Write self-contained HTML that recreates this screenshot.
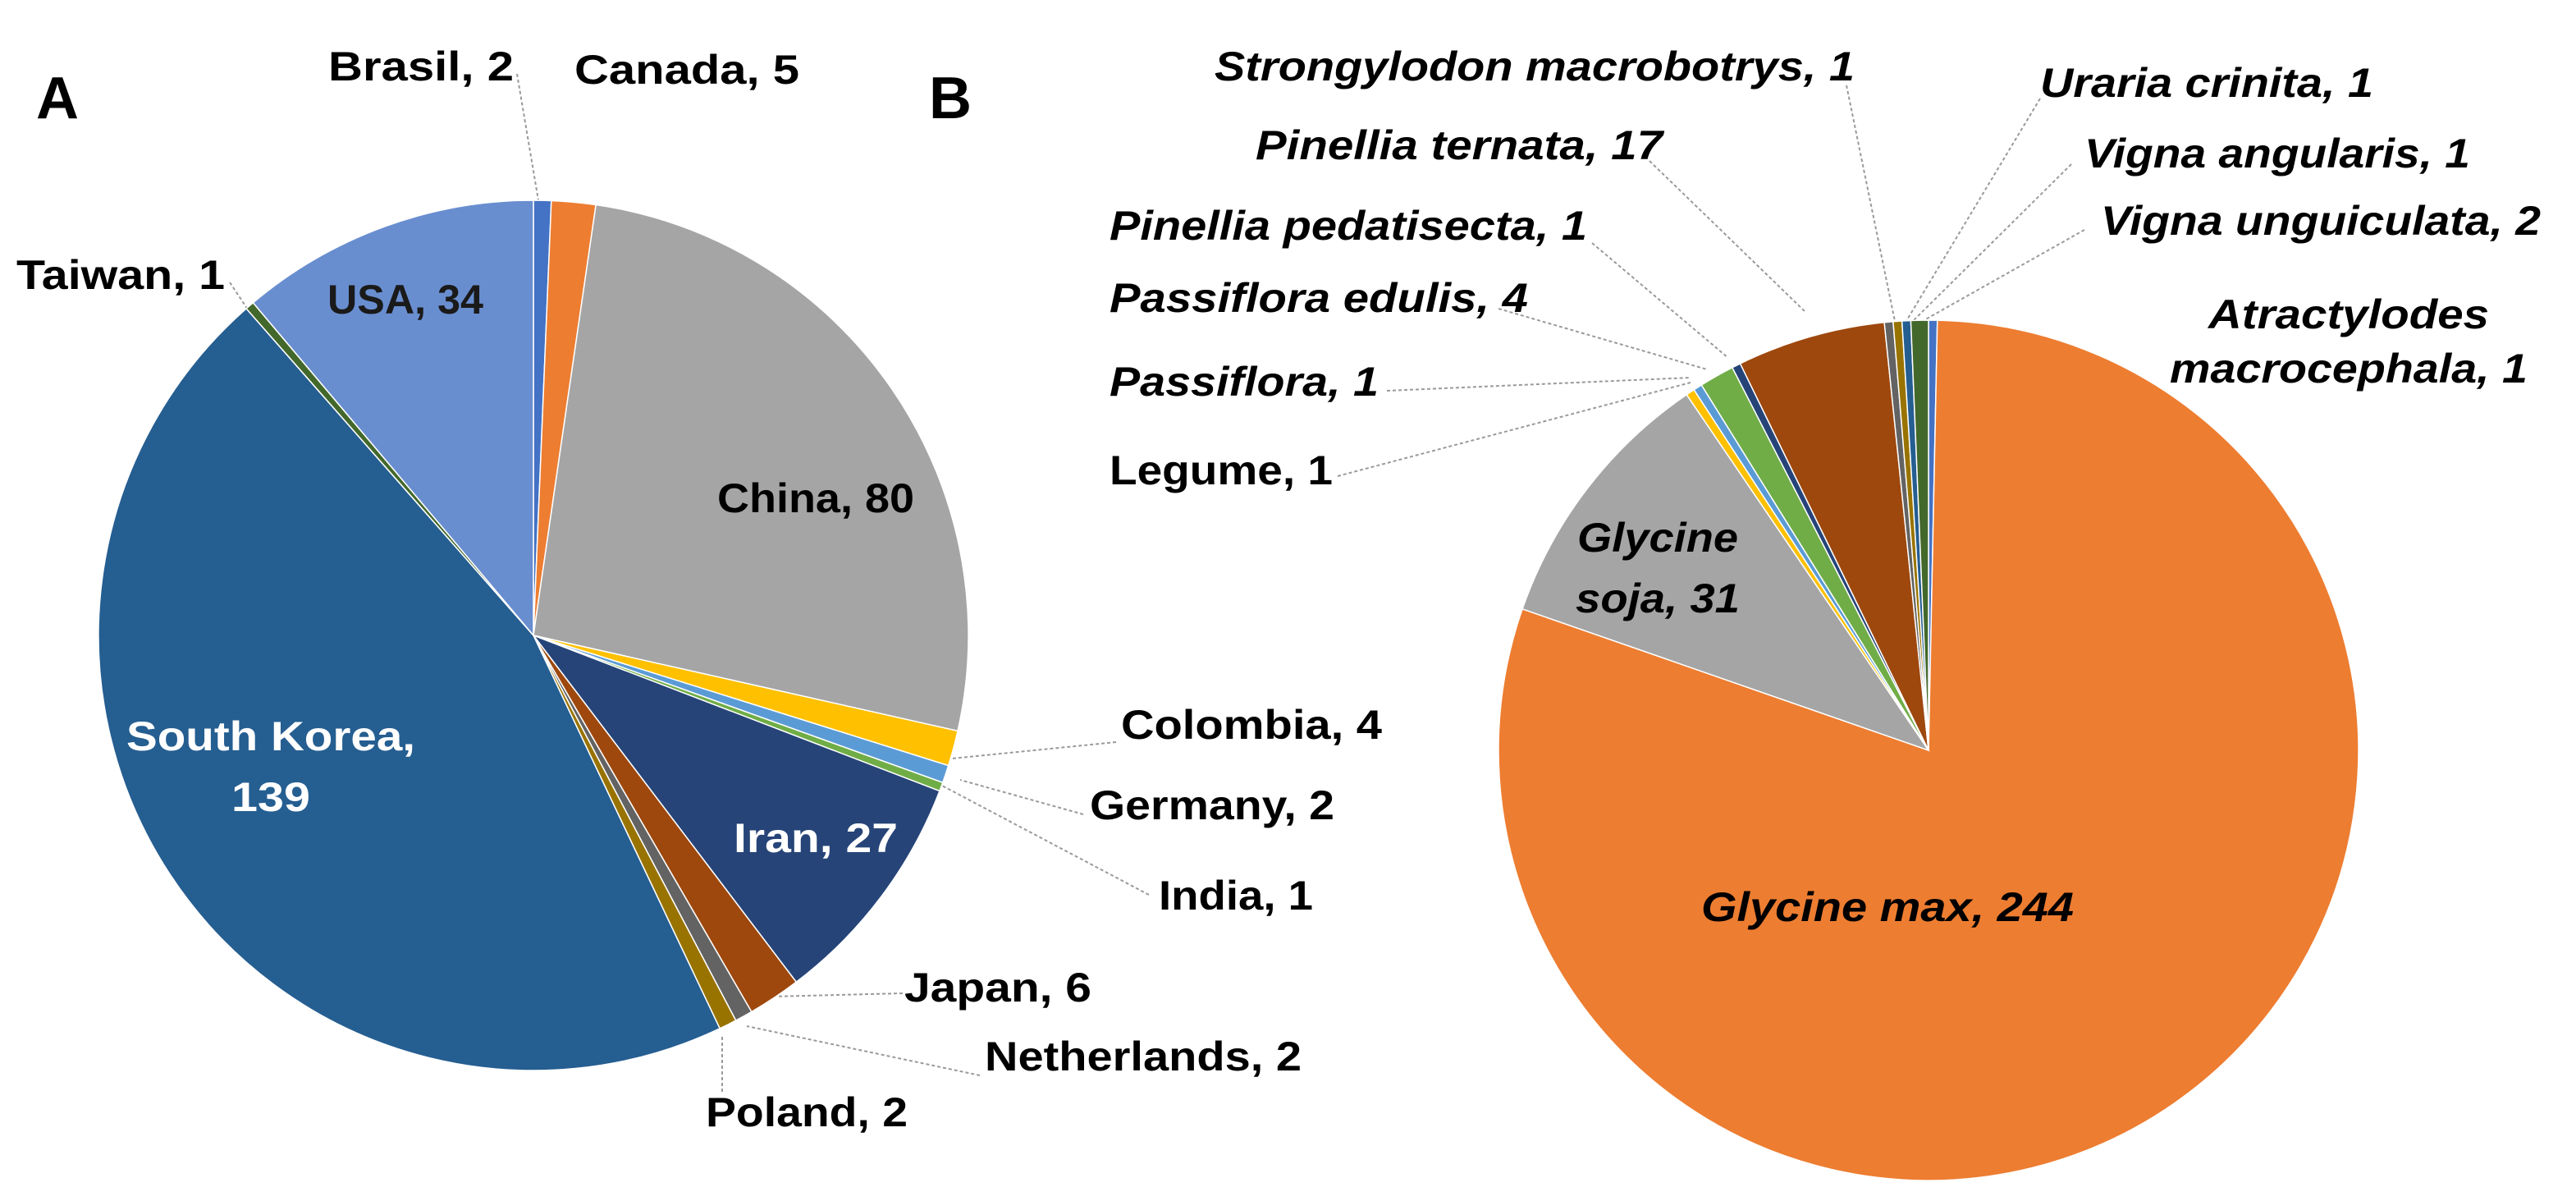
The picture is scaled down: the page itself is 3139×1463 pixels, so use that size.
<!DOCTYPE html>
<html><head><meta charset="utf-8"><style>
html,body{margin:0;padding:0;background:#fff;}
svg{display:block;}
text{font-family:"Liberation Sans",Arial,sans-serif;font-weight:bold;}
</style></head><body>
<svg id="chart" width="3139" height="1463" viewBox="0 0 3139 1463" xmlns="http://www.w3.org/2000/svg">
<text x="44" y="144" font-size="72">A</text>
<text x="1132" y="144" font-size="72">B</text>
<g id="leadA" stroke="#9a9a9a" stroke-width="2" fill="none" stroke-dasharray="4,3"></g>
<g id="leadB" stroke="#9a9a9a" stroke-width="2" fill="none" stroke-dasharray="4,3"></g>
<g id="pieA"></g>
<g id="pieB"></g>
<g id="labelsA"></g>
<g id="labelsB"></g>
</svg>
<script>
const countries = ["Brasil","Canada","China","Colombia","Germany","India","Iran","Japan","Netherlands","Poland","South Korea","Taiwan","USA"];
const countryCounts = [2,5,80,4,2,1,27,6,2,2,139,1,34];
const species = ["Atractylodes macrocephala","Glycine max","Glycine soja","Legume","Passiflora","Passiflora edulis","Pinellia pedatisecta","Pinellia ternata","Strongylodon macrobotrys","Uraria crinita","Vigna angularis","Vigna unguiculata"];
const speciesCounts = [1,244,31,1,1,4,1,17,1,1,1,2];
const palette = ["#4472C4","#ED7D31","#A5A5A5","#FFC000","#5B9BD5","#70AD47","#264478","#9E480E","#636363","#997300","#255E91","#43682B","#698ED0"];
const NS="http://www.w3.org/2000/svg";

function drawPie(gid, names, vals, cx, cy, r){
  const g=document.getElementById(gid);
  const total=vals.reduce((a,b)=>a+b,0);
  let a0=0;
  vals.forEach((v,i)=>{
    const a1=a0+v/total*2*Math.PI;
    const x0=cx+r*Math.sin(a0), y0=cy-r*Math.cos(a0);
    const x1=cx+r*Math.sin(a1), y1=cy-r*Math.cos(a1);
    const large=(a1-a0)>Math.PI?1:0;
    const p=document.createElementNS(NS,"path");
    p.setAttribute("d",`M${cx},${cy} L${x0},${y0} A${r},${r} 0 ${large} 1 ${x1},${y1} Z`);
    p.setAttribute("fill",palette[i%palette.length]);
    p.setAttribute("stroke","#fff");
    p.setAttribute("stroke-width","1.5");
    
    
    g.appendChild(p);
    a0=a1;
  });
}
drawPie("pieA",countries,countryCounts,650,774,530);
drawPie("pieB",species,speciesCounts,2350,914,524);

const labA=[
 ["Brasil, 2",400,98,226,"#000"],
 ["Canada, 5",700,102,274,"#000"],
 ["Taiwan, 1",20,352,254,"#000"],
 ["USA, 34",494,382,190,"#1a1a1a","m"],
 ["China, 80",994,624,240,"#000","m"],
 ["Colombia, 4",1366,900,318,"#000"],
 ["Germany, 2",1328,998,298,"#000"],
 ["India, 1",1412,1108,188,"#000"],
 ["Iran, 27",994,1038,200,"#fff","m"],
 ["Japan, 6",1102,1220,228,"#000"],
 ["Netherlands, 2",1200,1304,386,"#000"],
 ["Poland, 2",860,1372,246,"#000"],
 ["South Korea,",330,914,352,"#fff","m"],
 ["139",330,988,96,"#fff","m"]
];
const labB=[
 ["Strongylodon macrobotrys, 1",1480,98,780,"#000"],
 ["Uraria crinita, 1",2486,118,406,"#000"],
 ["Pinellia ternata, 17",1530,194,496,"#000"],
 ["Vigna angularis, 1",2540,204,470,"#000"],
 ["Pinellia pedatisecta, 1",1352,292,582,"#000"],
 ["Vigna unguiculata, 2",2560,286,536,"#000"],
 ["Passiflora edulis, 4",1352,380,510,"#000"],
 ["Atractylodes",2862,400,342,"#000","m"],
 ["macrocephala, 1",2862,466,436,"#000","m"],
 ["Passiflora, 1",1352,482,328,"#000"],
 ["Legume, 1",1352,590,272,"#000","n"],
 ["Glycine",2020,672,196,"#000","m"],
 ["soja, 31",2020,746,200,"#000","m"],
 ["Glycine max, 244",2300,1122,454,"#000","m"]
];
function drawLabels(gid, arr, italic){
  const g=document.getElementById(gid);
  arr.forEach(l=>{
    const t=document.createElementNS(NS,"text");
    t.textContent=l[0];
    t.setAttribute("x",l[1]); t.setAttribute("y",l[2]);
    t.setAttribute("font-size","50");
    t.setAttribute("fill",l[4]);
    if(italic && l[5]!=="n") t.setAttribute("font-style","italic");
    if(l[5]==="m") t.setAttribute("text-anchor","middle");
    t.setAttribute("textLength",l[3]);
    t.setAttribute("lengthAdjust","spacingAndGlyphs");
    
    
    g.appendChild(t);
  });
}
drawLabels("labelsA",labA,false);
drawLabels("labelsB",labB,true);

const linesA=[[630,90,656,244],[280,344,304,380],[1360,904,1160,924],[1320,992,1170,950],[1400,1090,1146,956],[1100,1210,940,1214],[1194,1310,910,1250],[880,1330,880,1260]];
const linesB=[[2250,104,2310,396],[2486,120,2320,396],[2010,196,2200,380],[2524,200,2326,396],[1940,296,2106,436],[2540,280,2334,396],[1826,376,2080,450],[1690,476,2060,460],[1630,580,2060,466]];
function drawLines(gid,arr){
  const g=document.getElementById(gid);
  arr.forEach(c=>{
    const ln=document.createElementNS(NS,"line");
    ln.setAttribute("x1",c[0]);ln.setAttribute("y1",c[1]);ln.setAttribute("x2",c[2]);ln.setAttribute("y2",c[3]);
    
    
    g.appendChild(ln);
  });
}
drawLines("leadA",linesA);
drawLines("leadB",linesB);
</script>
</body></html>
